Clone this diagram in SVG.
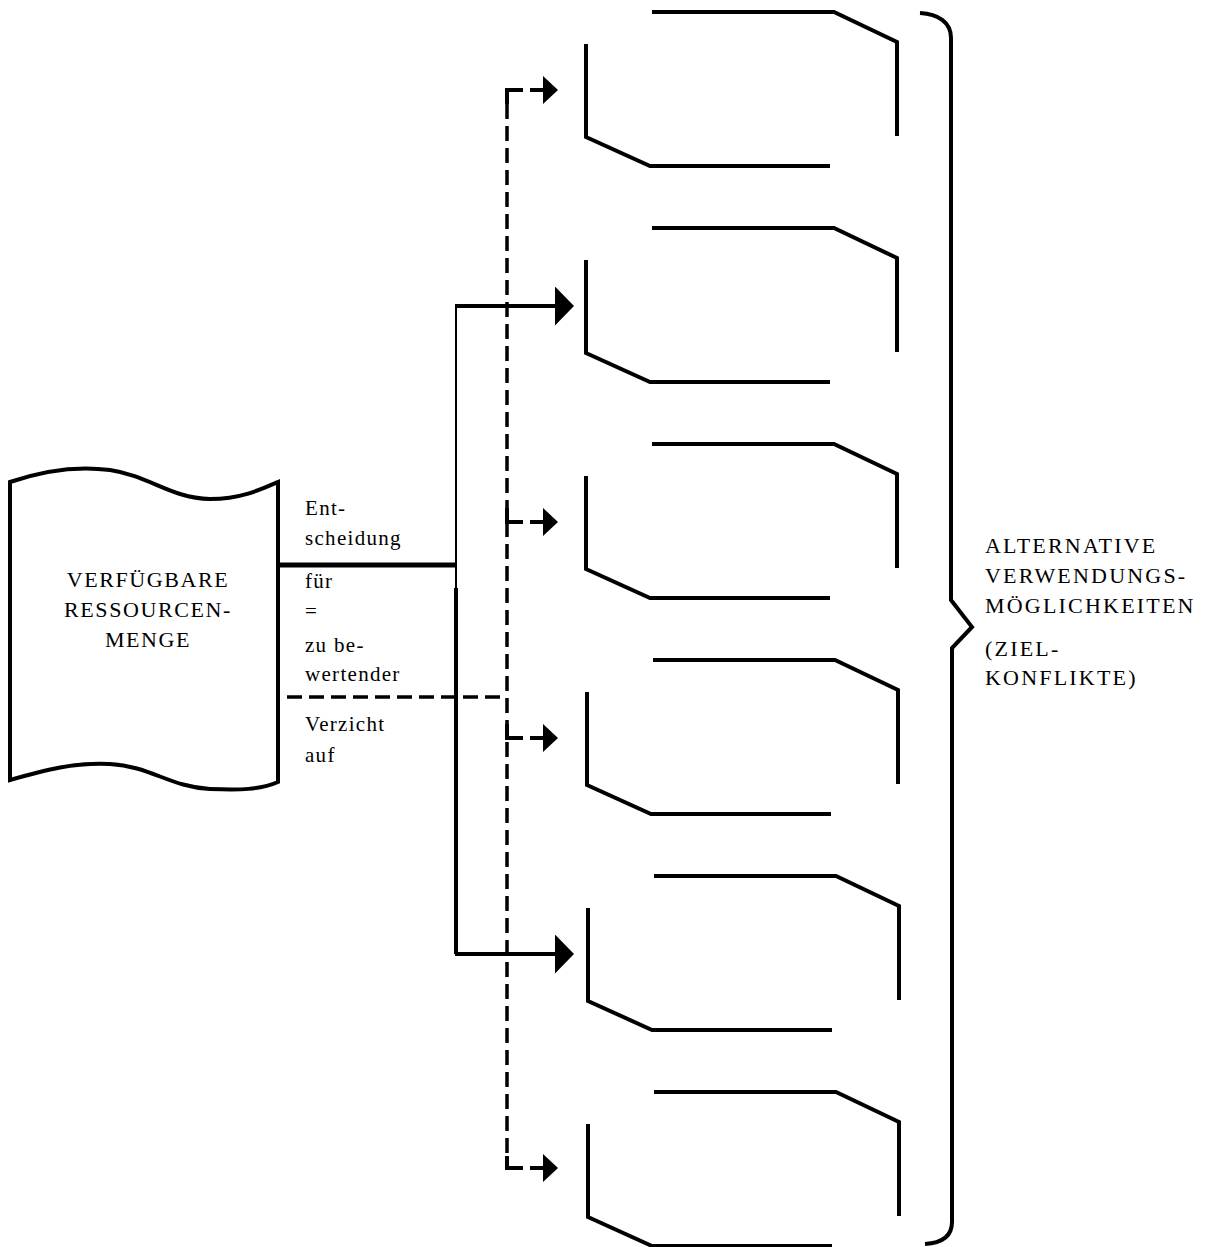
<svg xmlns="http://www.w3.org/2000/svg" width="1216" height="1247" viewBox="0 0 1216 1247">
<style>
.ln{fill:none;stroke:#000;stroke-width:4;stroke-linejoin:miter}
.dash{fill:none;stroke:#000;stroke-width:3.5;stroke-dasharray:15 7}
.sol{fill:none;stroke:#000;stroke-width:4}
.thin{fill:none;stroke:#000;stroke-width:2}
.t{font-family:"Liberation Serif",serif;fill:#000}
.cap{font-size:22px;letter-spacing:1.6px}
.lab{font-size:21px;letter-spacing:1.3px}
</style>
<defs>
<marker id="big" markerUnits="userSpaceOnUse" viewBox="0 0 19 39" refX="0" refY="19.5" markerWidth="19" markerHeight="39" orient="auto"><polygon points="0,0 19,19.5 0,39" fill="#000"/></marker>
<marker id="small" markerUnits="userSpaceOnUse" viewBox="0 0 15 28" refX="0" refY="14" markerWidth="15" markerHeight="28" orient="auto"><polygon points="0,0 15,14 0,28" fill="#000"/></marker>
<g id="alt">
<path class="ln" d="M652 0 H834 L897 30 V124"/>
<path class="ln" d="M586 32 V125 L650 154 H830"/>
</g>
</defs>

<g id="ressourcen">
<path class="ln" d="M10 482 C45 470 80 466 110 470 C150 476 170 498 210 499 C240 499 260 490 278 482 V782 C260 790 240 790 210 789 C170 787 150 766 110 764 C75 762 45 770 10 780 Z"/>
<text class="t cap" text-anchor="middle"><tspan x="148" y="587">VERFÜGBARE</tspan><tspan x="148" y="617">RESSOURCEN-</tspan><tspan x="148" y="647">MENGE</tspan></text>
</g>

<g id="box1"><use href="#alt" transform="translate(0,12)"/></g>
<g id="box2"><use href="#alt" transform="translate(0,228)"/></g>
<g id="box3"><use href="#alt" transform="translate(0,444)"/></g>
<g id="box4"><use href="#alt" transform="translate(1,660)"/></g>
<g id="box5"><use href="#alt" transform="translate(2,876)"/></g>
<g id="box6"><use href="#alt" transform="translate(2,1092)"/></g>

<g id="connectors">
<path class="sol" style="stroke-width:5" d="M280 565 H456"/>
<path class="thin" d="M456 306 V590"/>
<path class="sol" d="M456 588 V954"/>
<path class="sol" d="M455 306 H555" marker-end="url(#big)"/>
<path class="sol" d="M455 954 H555" marker-end="url(#big)"/>
<path class="dash" d="M287 697 H507"/>
<path class="dash" d="M507 104 V1156"/>
<path class="sol" d="M507 104 V90 H523"/>
<path class="sol" d="M530 90 H543" marker-end="url(#small)"/>
<path class="sol" d="M507 508 V522 H523"/>
<path class="sol" d="M530 522 H543" marker-end="url(#small)"/>
<path class="sol" d="M507 724 V738 H523"/>
<path class="sol" d="M530 738 H543" marker-end="url(#small)"/>
<path class="sol" d="M507 1156 V1168 H523"/>
<path class="sol" d="M530 1168 H543" marker-end="url(#small)"/>
</g>

<g id="labels">
<text class="t lab"><tspan x="305" y="515">Ent-</tspan><tspan x="305" y="545">scheidung</tspan><tspan x="305" y="588">für</tspan><tspan x="305" y="618">=</tspan><tspan x="305" y="652">zu be-</tspan><tspan x="305" y="681">wertender</tspan><tspan x="305" y="731">Verzicht</tspan><tspan x="305" y="762">auf</tspan></text>
</g>

<g id="klammer">
<path class="ln" d="M920 13 C938 14 951 22 951 38 V600 L972 627 L952 648 V1222 C952 1236 942 1243 925 1244"/>
<text class="t cap" style="letter-spacing:2.2px"><tspan x="985" y="553">ALTERNATIVE</tspan><tspan x="985" y="583">VERWENDUNGS-</tspan><tspan x="985" y="613">MÖGLICHKEITEN</tspan><tspan x="985" y="656">(ZIEL-</tspan><tspan x="985" y="685">KONFLIKTE)</tspan></text>
</g>
</svg>
